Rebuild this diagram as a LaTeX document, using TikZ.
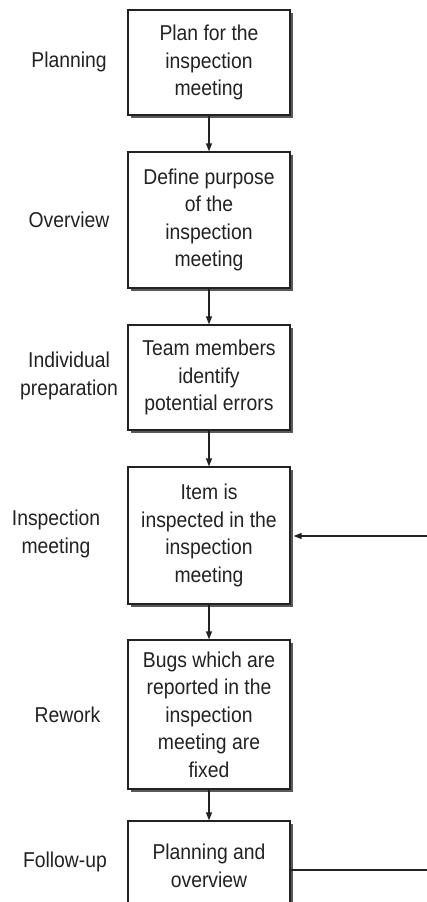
\documentclass[tikz,border=0pt]{standalone}
\usepackage{fontspec}
\setmainfont{Liberation Sans}[FakeStretch=0.9]
\usetikzlibrary{arrows.meta,shadows}
\definecolor{ink}{HTML}{222222}
\tikzset{
  stepbox/.style={draw=ink, line width=1.2pt, fill=white, minimum width=162pt,
    align=center, inner sep=0pt, text=ink,
    drop shadow={opacity=1, fill=black!65, shadow xshift=3pt, shadow yshift=-3pt}},
  phase/.style={align=center, text=ink},
  flow/.style={draw=ink, line width=1.2pt, -{Triangle[length=8pt,width=6pt]}},
  feed/.style={draw=ink, line width=1.2pt}
}
\begin{document}
\begin{tikzpicture}[x=1pt,y=-1pt, font=\fontsize{21.5}{27.5}\selectfont]
\useasboundingbox (0,0) rectangle (427,902);
\clip (0,0) rectangle (427,902);
\fill[white] (0,0) rectangle (427,902);

\node[stepbox, minimum height=105pt] (b1) at (209,62.5) {Plan for the\\inspection\\meeting};
\node[stepbox, minimum height=136pt] (b2) at (209,220) {Define purpose\\of the\\inspection\\meeting};
\node[stepbox, minimum height=105pt] (b3) at (209,377.5) {Team members\\identify\\potential errors};
\node[stepbox, minimum height=137pt] (b4) at (209,535.5) {Item is\\inspected in the\\inspection\\meeting};
\node[stepbox, minimum height=149pt] (b5) at (209,714.5) {Bugs which are\\reported in the\\inspection\\meeting are\\fixed};
\node[stepbox, minimum height=90pt] (b6) at (209,866) {Planning and\\overview};

\node[phase] (l1) at (69,62) {Planning};
\node[phase] (l2) at (69,220) {Overview};
\node[phase] (l3) at (69,376) {Individual\\preparation};
\node[phase] (l4) at (56,534) {Inspection\\meeting};
\node[phase] (l5) at (67.5,715) {Rework};
\node[phase] (l6) at (65,862) {Follow-up};

\draw[flow] (b1) -- (b2);
\draw[flow] (b2) -- (b3);
\draw[flow] (b3) -- (b4);
\draw[flow] (b4) -- (b5);
\draw[flow] (b5) -- (b6);

\coordinate (e6) at (430,870);
\coordinate (e4) at (430,536);
\draw[feed] (b6.east |- e6) -- (e6);
\draw[flow] (e4) -- ([xshift=3pt]b4.east |- e4);
\end{tikzpicture}
\end{document}
